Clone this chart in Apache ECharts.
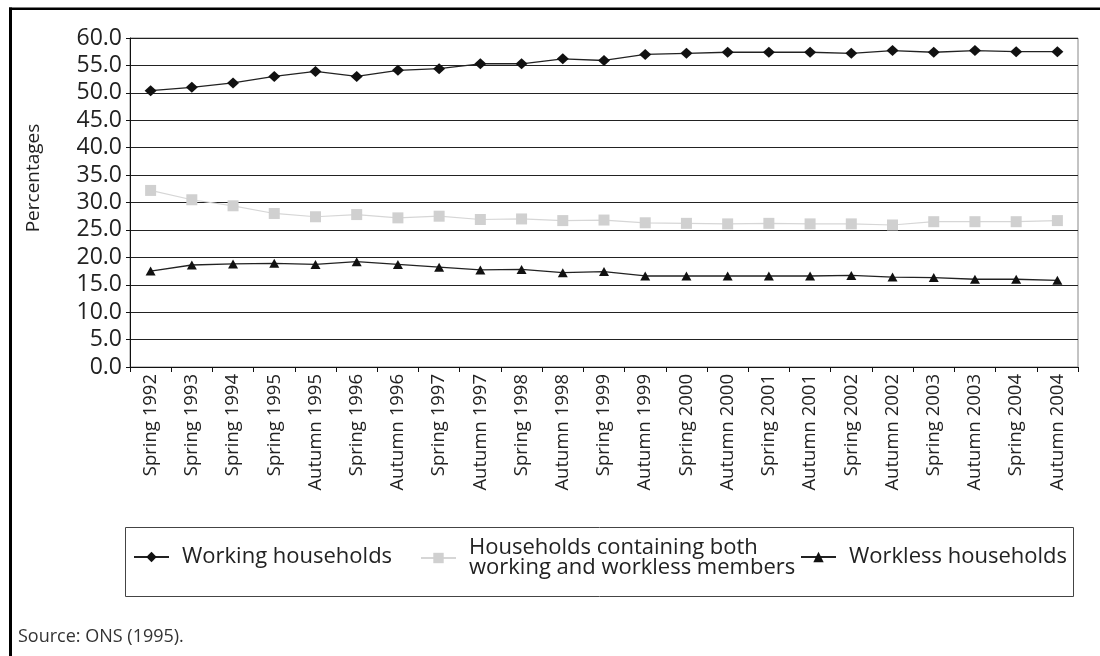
<!DOCTYPE html>
<html>
<head>
<meta charset="utf-8">
<script src="https://cdn.jsdelivr.net/npm/echarts@6/dist/echarts.min.js"></script>
<style>
html,body{margin:0;padding:0;background:#fff;}
#chart{width:1100px;height:656px;}
</style>
</head>
<body>
<div id="chart"></div>
<script>
const categories = ['Spring 1992','Spring 1993','Spring 1994','Spring 1995','Autumn 1995','Spring 1996','Autumn 1996','Spring 1997','Autumn 1997','Spring 1998','Autumn 1998','Spring 1999','Autumn 1999','Spring 2000','Autumn 2000','Spring 2001','Autumn 2001','Spring 2002','Autumn 2002','Spring 2003','Autumn 2003','Spring 2004','Autumn 2004'];
const working = [50.4, 51.0, 51.8, 53.0, 53.9, 53.0, 54.1, 54.4, 55.3, 55.3, 56.2, 55.9, 57.0, 57.2, 57.4, 57.4, 57.4, 57.2, 57.7, 57.4, 57.7, 57.5, 57.5];
const mixed = [32.2, 30.5, 29.4, 28.0, 27.4, 27.8, 27.2, 27.5, 26.9, 27.0, 26.7, 26.8, 26.3, 26.2, 26.1, 26.2, 26.1, 26.1, 25.9, 26.5, 26.5, 26.5, 26.7];
const workless = [17.5, 18.6, 18.8, 18.9, 18.7, 19.2, 18.7, 18.2, 17.7, 17.8, 17.2, 17.4, 16.6, 16.6, 16.6, 16.6, 16.6, 16.7, 16.4, 16.3, 16.0, 16.0, 15.8];
const seriesNames = ['Working households', 'Households containing both\nworking and workless members', 'Workless households'];
const yTicks = {min: 0, max: 60, interval: 5};
const yTitle = 'Percentages';
const sourceNote = 'Source: ONS (1995).';

const FONT = '"Open Sans", "Noto Sans", sans-serif';
const chart = echarts.init(document.getElementById('chart'));

const legendBase = {
  orient: 'horizontal', padding: 0, itemWidth: 35, itemHeight: 13,
  selectedMode: false,
  textStyle: {fontFamily: FONT, fontSize: 22, color: '#222', padding: [0, 0, 0, 8]}
};

chart.setOption({
  backgroundColor: '#fff',
  animation: false,
  grid: {left: 130, top: 38, right: 22, bottom: 656 - 367, show: true, borderColor: '#888', borderWidth: 1},
  xAxis: {
    type: 'category', data: categories, boundaryGap: true,
    axisLine: {lineStyle: {color: '#111', width: 1}},
    axisTick: {show: true, interval: 0, length: 5, lineStyle: {color: '#111'}},
    axisLabel: {interval: 0, rotate: 90, margin: 7, fontFamily: FONT, fontSize: 18.5, color: '#222'},
    splitLine: {show: false}
  },
  yAxis: {
    type: 'value', min: yTicks.min, max: yTicks.max, interval: yTicks.interval,
    axisLine: {show: true, lineStyle: {color: '#111', width: 1}},
    axisTick: {show: true, length: 4, lineStyle: {color: '#111'}},
    axisLabel: {margin: 8, fontFamily: FONT, fontSize: 23, color: '#222', formatter: v => v.toFixed(1)},
    splitLine: {show: true, lineStyle: {color: '#222', width: 1}}
  },
  legend: [
    Object.assign({}, legendBase, {data: [seriesNames[0]], left: 133, top: 545, textStyle: Object.assign({}, legendBase.textStyle, {lineHeight: 24})}),
    Object.assign({}, legendBase, {data: [seriesNames[1]], left: 420, top: 537, textStyle: Object.assign({}, legendBase.textStyle, {lineHeight: 20})}),
    Object.assign({}, legendBase, {data: [seriesNames[2]], left: 800, top: 545, textStyle: Object.assign({}, legendBase.textStyle, {lineHeight: 24})})
  ],
  graphic: [
    {type: 'line', shape: {x1: 9, y1: 8.75, x2: 1100, y2: 8.75}, style: {stroke: '#000', lineWidth: 2.5}, silent: true},
    {type: 'line', shape: {x1: 10.5, y1: 7.5, x2: 10.5, y2: 656}, style: {stroke: '#000', lineWidth: 3}, silent: true},
    {type: 'rect', shape: {x: 125.5, y: 527.5, width: 948, height: 69}, style: {fill: 'none', stroke: '#444', lineWidth: 1}, silent: true},
    {type: 'text', x: 34, y: 178, rotation: Math.PI / 2, style: {text: yTitle, font: '19px ' + FONT, fill: '#222', textAlign: 'center', textVerticalAlign: 'middle'}, silent: true},
    {type: 'text', x: 18, y: 637, style: {text: sourceNote, font: '18px ' + FONT, fill: '#333', textAlign: 'left', textVerticalAlign: 'middle'}, silent: true}
  ],
  series: [
    {name: seriesNames[1], type: 'line', data: mixed, symbol: 'rect', symbolSize: 11,
      lineStyle: {color: '#d6d6d6', width: 1.2}, itemStyle: {color: '#d0d0d0'}, z: 2},
    {name: seriesNames[0], type: 'line', data: working, symbol: 'diamond', symbolSize: [12, 11],
      lineStyle: {color: '#222', width: 1.3}, itemStyle: {color: '#111'}, z: 3},
    {name: seriesNames[2], type: 'line', data: workless, symbol: 'triangle', symbolSize: [10, 9],
      lineStyle: {color: '#222', width: 1.3}, itemStyle: {color: '#111'}, z: 3}
  ]
});
</script>
</body>
</html>
